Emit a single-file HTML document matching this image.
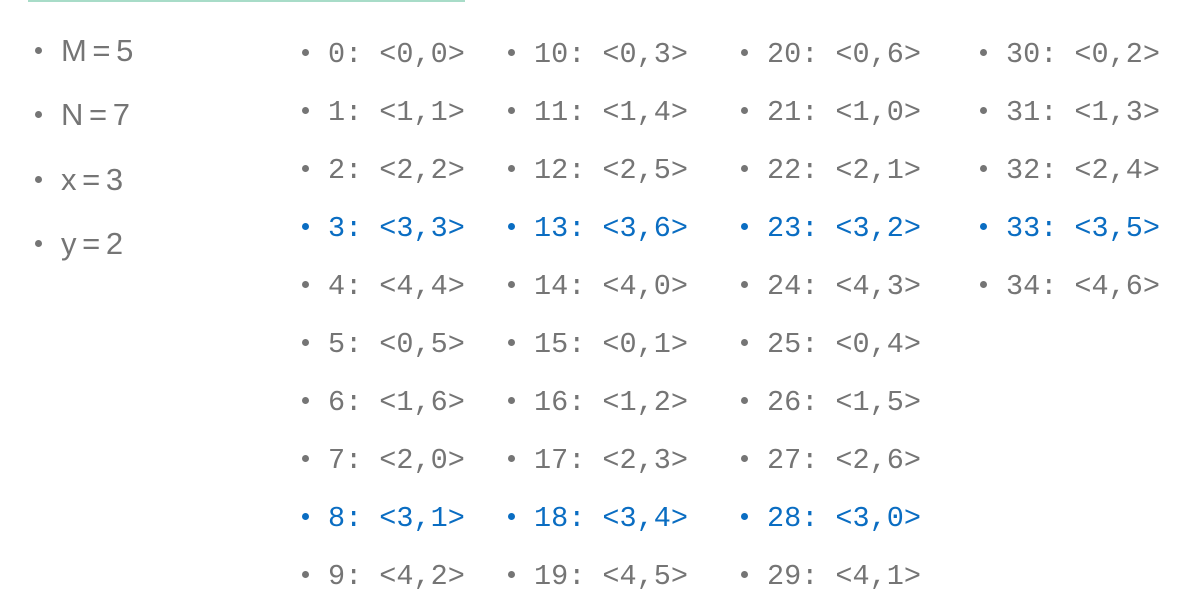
<!DOCTYPE html>
<html><head><meta charset="utf-8">
<style>
html,body{margin:0;padding:0;background:#fff;width:1196px;height:613px;overflow:hidden;position:relative}
.topline{position:absolute;left:28px;top:0;width:437px;height:2px;background:#a8dcc8}
.it{position:absolute;white-space:pre;color:#757575;line-height:1}
.mono{font-family:"Liberation Mono",monospace;font-size:28.5px}
.sans{font-family:"Liberation Sans",sans-serif;font-size:31px;letter-spacing:-1.5px}
.blue{color:#0a6dc2}
.dot{position:absolute;width:7px;height:7px;border-radius:50%;background:#757575}
.dot.blue{background:#0a6dc2}
</style></head><body>
<div class="topline"></div>
<script>
const params=["M = 5","N = 7","x = 3","y = 2"];
const M=5,N=7,X=3;
const colX=[328,534,767,1006];
const total=35;
function add(text,x,yc,cls,blue,off){
  const d=document.createElement('div');
  d.className='dot'+(blue?' blue':'');
  d.style.left=(x-26)+'px';d.style.top=(yc-4)+'px';
  
  
  document.body.appendChild(d);
  const t=document.createElement('div');
  t.className='it '+cls+(blue?' blue':'');
  t.textContent=text;
  t.style.left=x+'px';t.style.top=(yc-off)+'px';
  
  
  document.body.appendChild(t);
}
params.forEach((p,i)=>add(p,61,51+i*64.3,'sans',false,16));
for(let k=0;k<total;k++){
  const a=k%M,b=k%N;
  const col=Math.floor(k/10),row=k%10;
  add(k+': <'+a+','+b+'>',colX[col],53+row*58,'mono',a===X,12);
}
</script>
</body></html>
